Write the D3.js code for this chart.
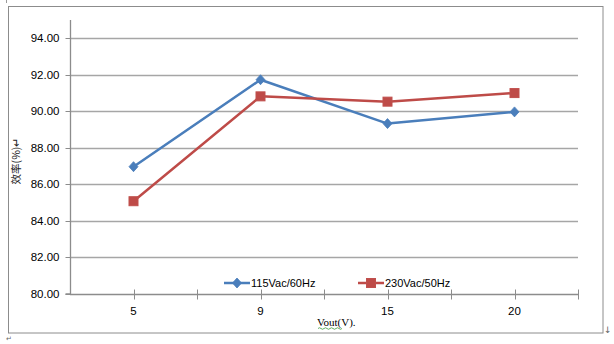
<!DOCTYPE html>
<html><head><meta charset="utf-8">
<script src="https://cdn.jsdelivr.net/npm/d3@7"></script>
<style>body{margin:0;background:#fff}svg{display:block}</style>
</head><body>
<svg id="c" width="614" height="344"></svg>
<script>
const categories = ["5", "9", "15", "20"];
const series115 = [86.97, 91.73, 89.33, 89.97];
const series230 = [85.08, 90.82, 90.53, 91.00];
const seriesNames = ["115Vac/60Hz", "230Vac/50Hz"];
const yTicks = [80, 82, 84, 86, 88, 90, 92, 94];

const svg = d3.select("#c");
const colors = ["#4A7EBB", "#BE4B48"];
const plotL = 70, plotR = 578, plotT = 20, plotB = 294;

// outer frame
svg.append("rect").attr("x", 8.5).attr("y", 6.5).attr("width", 594.5).attr("height", 326.5)
  .attr("fill", "none").attr("stroke", "#8c8c8c").attr("stroke-width", 1);
svg.append("line").attr("x1", 6.5).attr("x2", 6.5).attr("y1", 0).attr("y2", 3).attr("stroke", "#999");

const x = d3.scaleBand().domain(categories).range([plotL, plotR]);
const y = d3.scaleLinear().domain([80, 95]).range([plotB, plotT]);

// gridlines
svg.append("g").selectAll("line").data(yTicks.filter(d => d > 80)).join("line")
  .attr("x1", plotL).attr("x2", plotR)
  .attr("y1", d => Math.round(y(d)) + 0.5).attr("y2", d => Math.round(y(d)) + 0.5)
  .attr("stroke", "#a6a6a6").attr("stroke-width", 1.3);

// y axis
const yAxis = d3.axisLeft(y).tickValues(yTicks).tickFormat(d3.format(".2f")).tickSize(5).tickPadding(6);
const gy = svg.append("g").attr("transform", `translate(${plotL + 0.5},0)`).call(yAxis);
gy.select(".domain").attr("stroke", "#8c8c8c").attr("stroke-width", 1.3).attr("d", `M-5,${plotB}H0V${plotT}`);
gy.selectAll(".tick line").attr("stroke", "#8c8c8c");
gy.selectAll(".tick text").attr("font-family", "Liberation Sans, Arial, sans-serif").attr("font-size", "11.5px").attr("fill", "#000");
gy.selectAll(".tick").attr("transform", d => `translate(0,${Math.round(y(d)) + 0.5})`);

// x axis with ticks at band edges and centres
const gx = svg.append("g").attr("transform", `translate(0,${plotB + 0.5})`);
gx.append("line").attr("x1", plotL).attr("x2", plotR).attr("stroke", "#8c8c8c").attr("stroke-width", 1.3);
const tickPos = [];
categories.forEach(c => { tickPos.push(x(c) + x.bandwidth() / 2); tickPos.push(x(c) + x.bandwidth()); });
gx.selectAll("line.t").data(tickPos).join("line").attr("class", "t")
  .attr("x1", d => Math.round(d) + 0.5).attr("x2", d => Math.round(d) + 0.5)
  .attr("y1", -5).attr("y2", 5).attr("stroke", "#8c8c8c").attr("stroke-width", 1);
gx.selectAll("text").data(categories).join("text")
  .attr("x", d => x(d) + x.bandwidth() / 2).attr("y", 20)
  .attr("text-anchor", "middle").attr("font-family", "Liberation Sans, Arial, sans-serif")
  .attr("font-size", "11.5px").text(d => d);

// lines
const line = d3.line().x((d, i) => x(categories[i]) + x.bandwidth() / 2).y(d => y(d));
const allSeries = [series115, series230];
allSeries.forEach((s, k) => {
  svg.append("path").datum(s).attr("d", line).attr("fill", "none")
    .attr("stroke", colors[k]).attr("stroke-width", 2.5).attr("stroke-linejoin", "round");
});
function marker(g, k, cx, cy) {
  if (k === 0) {
    g.append("path").attr("d", `M${cx},${cy - 5}L${cx + 4.5},${cy}L${cx},${cy + 5}L${cx - 4.5},${cy}Z`)
      .attr("fill", colors[0]).attr("stroke", colors[0]).attr("stroke-width", 0.8);
  } else {
    g.append("rect").attr("x", cx - 4.5).attr("y", cy - 4.5).attr("width", 9).attr("height", 9)
      .attr("fill", colors[1]).attr("stroke", "#c0504d").attr("stroke-width", 1);
  }
}
allSeries.forEach((s, k) => {
  const g = svg.append("g");
  s.forEach((v, i) => marker(g, k, x(categories[i]) + x.bandwidth() / 2, y(v)));
});

// legend
const legX = [224, 358];
seriesNames.forEach((n, k) => {
  const g = svg.append("g");
  const ly = 283;
  g.append("line").attr("x1", legX[k]).attr("x2", legX[k] + 26).attr("y1", ly).attr("y2", ly)
    .attr("stroke", colors[k]).attr("stroke-width", 2.5);
  marker(g, k, legX[k] + 13, ly);
  g.append("text").attr("x", legX[k] + 27).attr("y", ly + 4)
    .attr("font-family", "Liberation Sans, Arial, sans-serif").attr("font-size", "11px").text(n);
});

// axis titles
svg.append("text").attr("transform", "translate(20,161) rotate(-90)").attr("text-anchor", "middle")
  .attr("font-family", "Noto Sans CJK SC, sans-serif").attr("font-size", "10.5px")
  .attr("fill", "#222").text("效率(%)↵");
svg.append("text").attr("x", 317).attr("y", 326)
  .attr("font-family", "Liberation Serif, Times New Roman, serif").attr("font-size", "11px").text("Vout(V).");
svg.append("path").attr("d", "M318,328.5 q1.5,-1.5 3,0 t3,0 t3,0 t3,0 t3,0 t3,0 t3,0 t3,0")
  .attr("fill", "none").attr("stroke", "#3a9a3a").attr("stroke-width", 0.8);

// paragraph marks
svg.append("text").attr("x", 604).attr("y", 333).attr("font-family", "DejaVu Sans").attr("font-size", "9px").attr("fill", "#666").text("↓");
svg.append("text").attr("x", 6).attr("y", 341).attr("font-family", "DejaVu Sans").attr("font-size", "7px").attr("fill", "#666").text("↵");
</script>
</body></html>
